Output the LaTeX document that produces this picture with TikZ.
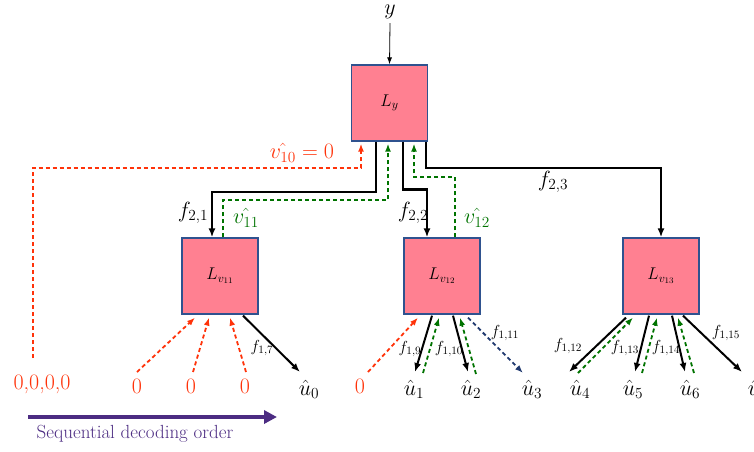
\RequirePackage{fix-cm}
\documentclass[tikz,border=0pt]{standalone}
\usepackage{xcolor}
\usepackage{tikz}
\usetikzlibrary{calc, positioning, arrows.meta}
\definecolor{boxpink}{RGB}{255,128,145}
\definecolor{boxedge}{RGB}{47,82,143}
\definecolor{fbred}{RGB}{255,51,10}
\definecolor{fbgreen}{RGB}{0,115,0}
\definecolor{fbblue}{RGB}{31,56,110}
\definecolor{ordpurple}{RGB}{76,44,130}
\tikzset{
    llr/.style={rectangle, draw=boxedge, line width=1.3pt, fill=boxpink, minimum width=76pt, minimum height=76pt, inner sep=0pt, font=\fontsize{17}{20}\selectfont},
    big/.style={inner sep=0pt, font=\fontsize{22}{26}\selectfont},
    small/.style={inner sep=0pt, font=\fontsize{16}{19}\selectfont},
    fwd/.style={-{Latex[length=9pt,width=7pt]}, line width=2pt, black},
    thin/.style={-{Latex[length=7pt,width=5pt]}, line width=0.8pt, black},
    redfb/.style={-{Latex[length=8pt,width=6pt]}, line width=1.8pt, fbred, dash pattern=on 4pt off 3pt},
    greenfb/.style={-{Latex[length=8pt,width=6pt]}, line width=1.8pt, fbgreen, dash pattern=on 4pt off 3pt},
    bluefb/.style={-{Latex[length=8pt,width=6pt]}, line width=1.8pt, fbblue, dash pattern=on 4pt off 3pt},
    order/.style={-{Triangle[length=13pt,width=13pt]}, line width=4pt, ordpurple}
}

\begin{document}
\begin{tikzpicture}[x=1pt, y=-1pt]
    \useasboundingbox (0,0) rectangle (754,451);

    % Decoder boxes
    \node[llr] (Ly) at (389.5,103) {$L_y$};
    \node[llr] (Lv11) at (220,276) {$L_{v_{11}}$};
    \node[llr] (Lv12) at (442,276) {$L_{v_{12}}$};
    \node[llr] (Lv13) at (661,276) {$L_{v_{13}}$};

    % Channel input
    \node[big] (y) at (390,12) {$y$};
    \draw[thin] ([yshift=-4pt]y.south) -- (Ly.north);

    % Level 2 messages
    \draw[fwd] ([xshift=-13.5pt]Ly.south) -- ++(0,50) -| ([xshift=-8pt]Lv11.north);
    \draw[fwd, line width=2.6pt] ([xshift=13.5pt]Ly.south) -- ++(0,48) -| ([xshift=-15pt]Lv12.north);
    \draw[fwd] ([xshift=36.5pt]Ly.south) -- ++(0,26) -| (Lv13.north);
    \draw[greenfb] ([xshift=3pt]Lv11.north) -- ++(0,-37) -| ([xshift=-1.5pt,yshift=-2pt]Ly.south);
    \draw[greenfb] ([xshift=13pt]Lv12.north) -- ++(0,-60) -| ([xshift=24.5pt,yshift=-2pt]Ly.south);

    \node[big] (f21) at (193,213) {$f_{2,1}$};
    \node[big, fbgreen] (v11) at (246,218) {$\hat{v_{11}}$};
    \node[big] (f22) at (413,213) {$f_{2,2}$};
    \node[big, fbgreen] (v12) at (477,218) {$\hat{v_{12}}$};
    \node[big] (f23) at (553,182) {$f_{2,3}$};
    \node[big, fbred] (v10) at (302,153) {$\hat{v_{10}} = 0$};

    % Frozen bits and decisions
    \node[big, fbred] (zeros) at (42,384) {0,0,0,0};
    \node[big, fbred] (z1) at (137,386) {0};
    \node[big, fbred] (z2) at (191,386) {0};
    \node[big, fbred] (z3) at (245,386) {0};
    \node[big, fbred] (z4) at (360,386) {0};
    \foreach \name/\x/\i in {u0/309/0, u1/414/1, u2/471/2, u3/532/3, u4/580/4, u5/633/5, u6/690/6, u7/758/7}
        \node[big] (\name) at (\x,389) {$\hat{u}_{\i}$};

    \draw[redfb] ([shift={(-9,-26)}]zeros.center) |- ([xshift=-28.5pt,yshift=-26pt]Ly.south) -- ([xshift=-28.5pt,yshift=-2pt]Ly.south);

    % Left subtree
    \draw[redfb] ([shift={(0,-14)}]z1.center) -- ([xshift=-25pt,yshift=-3pt]Lv11.south);
    \draw[redfb] ([shift={(2,-14)}]z2.center) -- ([xshift=-11pt,yshift=-3pt]Lv11.south);
    \draw[redfb] ([shift={(1,-14)}]z3.center) -- ([xshift=10pt,yshift=-3pt]Lv11.south);
    \draw[fwd] ([xshift=23pt,yshift=-1pt]Lv11.south) -- ([shift={(-9,-17)}]u0.center);
    \node[small] (f17) at (262,348) {$f_{1,7}$};

    % Middle subtree
    \draw[redfb] ([shift={(8,-14)}]z4.center) -- ([xshift=-24pt,yshift=-3pt]Lv12.south);
    \draw[fwd] ([xshift=-10pt,yshift=-1pt]Lv12.south) -- ([shift={(1,-17)}]u1.center);
    \draw[greenfb] ([shift={(9,-16)}]u1.center) -- ([xshift=-3pt,yshift=-3pt]Lv12.south);
    \draw[fwd] ([xshift=11pt,yshift=-1pt]Lv12.south) -- ([shift={(-3,-17)}]u2.center);
    \draw[greenfb] ([shift={(5,-15)}]u2.center) -- ([xshift=18pt,yshift=-3pt]Lv12.south);
    \draw[bluefb] ([xshift=26pt,yshift=-3pt]Lv12.south) -- ([shift={(-9,-16)}]u3.center);
    \node[small] (f19) at (410,349) {$f_{1,9}$};
    \node[small] (f110) at (449,349) {$f_{1,10}$};
    \node[small] (f111) at (505,333) {$f_{1,11}$};

    % Right subtree
    \draw[fwd] ([xshift=-35pt,yshift=-3pt]Lv13.south) -- ([shift={(-11,-17)}]u4.center);
    \draw[greenfb] ([shift={(-2,-16)}]u4.center) -- ([xshift=-28pt,yshift=-3pt]Lv13.south);
    \draw[fwd] ([xshift=-12pt,yshift=-1pt]Lv13.south) -- ([shift={(2,-17)}]u5.center);
    \draw[greenfb] ([shift={(9,-16)}]u5.center) -- ([xshift=-4pt,yshift=-3pt]Lv13.south);
    \draw[fwd] ([xshift=11pt,yshift=-1pt]Lv13.south) -- ([shift={(-5,-17)}]u6.center);
    \draw[greenfb] ([shift={(4,-16)}]u6.center) -- ([xshift=17pt,yshift=-3pt]Lv13.south);
    \draw[fwd] ([xshift=22pt,yshift=-1pt]Lv13.south) -- ([shift={(-16,-17)}]u7.center);
    \node[small] (f112) at (568,346) {$f_{1,12}$};
    \node[small] (f113) at (625,348) {$f_{1,13}$};
    \node[small] (f114) at (666,348) {$f_{1,14}$};
    \node[small] (f115) at (726,333) {$f_{1,15}$};

    % Decoding order
    \coordinate (ordS) at (28,417);
    \coordinate (ordE) at (277,417);
    \draw[order] (ordS) -- (ordE);
    \node[inner sep=0pt, ordpurple, font=\fontsize{19}{22}\selectfont] (ordtxt) at (135,434) {Sequential decoding order};
\end{tikzpicture}
\end{document}
